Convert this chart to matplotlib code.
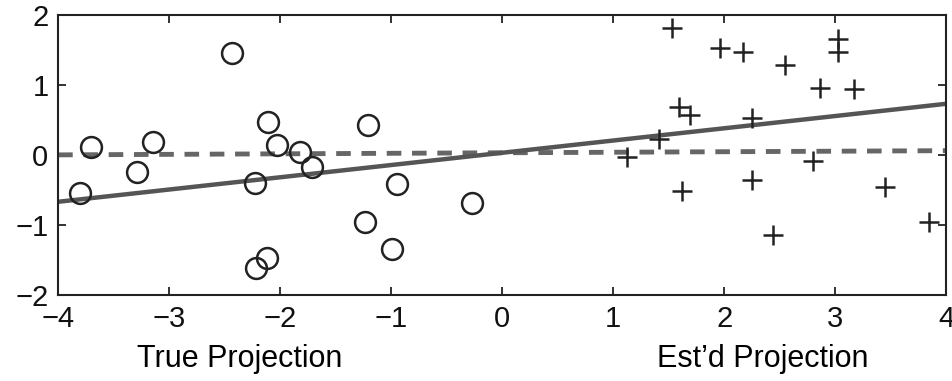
import numpy as np
import matplotlib.pyplot as plt

plt.rcParams['font.family'] = ['Liberation Sans', 'DejaVu Sans']

# true projection (circles)
true_x = [-3.80, -3.70, -3.15, -3.29, -2.43, -2.11, -2.03, -1.82, -1.71, -2.23,
          -1.21, -0.95, -1.24, -0.99, -2.12, -2.22, -0.27]
true_y = [-0.54, 0.11, 0.19, -0.24, 1.46, 0.47, 0.14, 0.04, -0.17, -0.40,
          0.42, -0.42, -0.96, -1.34, -1.47, -1.61, -0.69]

# estimated projection (plus)
est_x = [1.53, 1.96, 2.17, 2.55, 3.02, 3.02, 2.86, 3.17, 1.59, 1.69,
         2.25, 1.41, 1.12, 2.80, 2.25, 1.62, 3.45, 2.44, 3.84]
est_y = [1.81, 1.53, 1.47, 1.29, 1.66, 1.47, 0.96, 0.94, 0.68, 0.57,
         0.53, 0.22, -0.03, -0.09, -0.36, -0.51, -0.46, -1.14, -0.96]

# fitted lines, endpoints at x=-4 and x=4
line_x = [-4, 4]
dashed_y = [0.0, 0.06]
solid_y = [-0.67, 0.73]

fig = plt.figure(figsize=(9.53, 3.81), dpi=100)
ax = fig.add_axes([0.061, 0.226, 0.932, 0.735])

ax.plot(line_x, dashed_y, linestyle=(0, (3, 2.2)), color='#666666', linewidth=3.5)
ax.plot(line_x, solid_y, linestyle='-', color='#555555', linewidth=3.2)
ax.plot(true_x, true_y, 'o', markersize=15, markerfacecolor='none',
        markeredgecolor='#222222', markeredgewidth=1.8)
ax.plot(est_x, est_y, '+', markersize=15, color='#222222', markeredgewidth=1.8)

ax.set_xlim(-4, 4)
ax.set_ylim(-2, 2)
ax.set_xticks(np.arange(-4, 5, 1))
ax.set_yticks(np.arange(-2, 3, 1))
ax.set_xticklabels(['\u22124', '\u22123', '\u22122', '\u22121', '0', '1', '2', '3', '4'])
ax.set_yticklabels(['\u22122', '\u22121', '0', '1', '2'])
ax.tick_params(direction='in', length=6, width=1.2, labelsize=21,
               top=True, right=True, pad=7, colors='#111111')
for s in ax.spines.values():
    s.set_linewidth(1.5)
    s.set_color('#222222')

fig.text(0.252, 0.058, 'True Projection', ha='center', va='center', fontsize=22)
fig.text(0.80, 0.058, "Est\u2019d Projection", ha='center', va='center', fontsize=22)

fig.savefig('out.png', dpi=100)
